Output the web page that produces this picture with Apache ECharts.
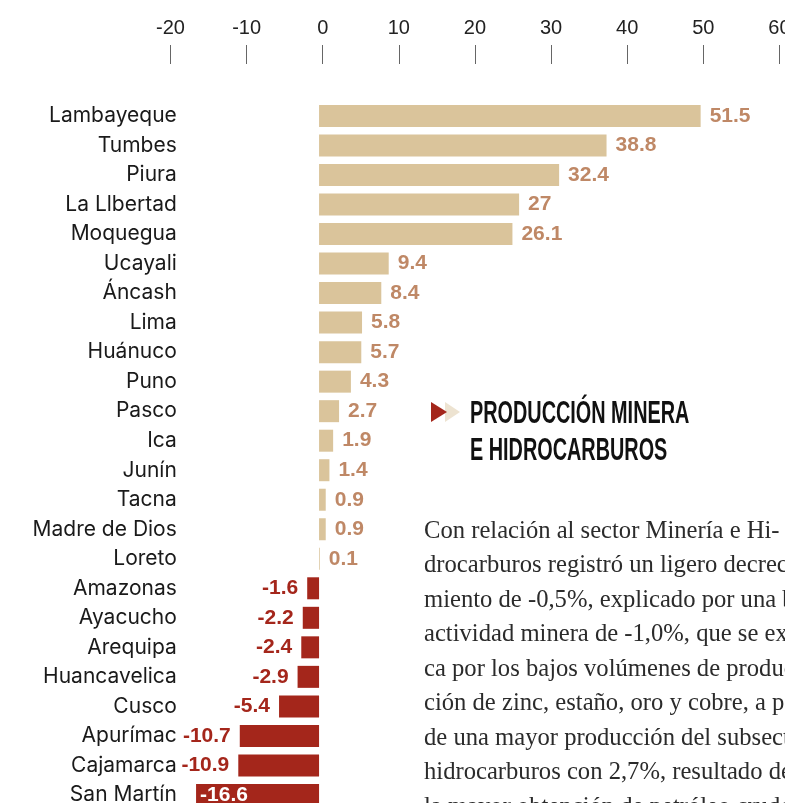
<!DOCTYPE html>
<html>
<head>
<meta charset="utf-8">
<script src="https://cdn.jsdelivr.net/npm/echarts@6/dist/echarts.min.js"></script>
<style>
  html, body { margin: 0; padding: 0; overflow: hidden; background: #fff; }
  #main { width: 785px; height: 830px; }
</style>
</head>
<body>
<div id="main"></div>
<script>
// datos por región (variación %)
var regiones = ['Lambayeque', 'Tumbes', 'Piura', 'La Llbertad', 'Moquegua', 'Ucayali', 'Áncash', 'Lima',
  'Huánuco', 'Puno', 'Pasco', 'Ica', 'Junín', 'Tacna', 'Madre de Dios', 'Loreto', 'Amazonas', 'Ayacucho',
  'Arequipa', 'Huancavelica', 'Cusco', 'Apurímac', 'Cajamarca', 'San Martín'];
var valores = [51.5, 38.8, 32.4, 27, 26.1, 9.4, 8.4, 5.8, 5.7, 4.3, 2.7, 1.9, 1.4, 0.9, 0.9, 0.1,
  -1.6, -2.2, -2.4, -2.9, -5.4, -10.7, -10.9, -16.6];
var ticksEje = [-20, -10, 0, 10, 20, 30, 40, 50, 60];

var titulo = ['PRODUCCIÓN MINERA', 'E HIDROCARBUROS'];
var parrafo = [
  'Con relación al sector Minería e Hi-',
  'drocarburos registró un ligero decreci-',
  'miento de -0,5%, explicado por una baja',
  'actividad minera de -1,0%, que se expli-',
  'ca por los bajos volúmenes de produc-',
  'ción de zinc, estaño, oro y cobre, a pesar',
  'de una mayor producción del subsector',
  'hidrocarburos con 2,7%, resultado de',
  'la mayor obtención de petróleo crudo'
];

var colorPos = '#dac49b';
var colorNeg = '#a4261b';
var colorEtqPos = '#bf8866';

var chart = echarts.init(document.getElementById('main'), null, { renderer: 'canvas' });

var datos = valores.map(function (v) {
  var item = { value: v, itemStyle: { color: v >= 0 ? colorPos : colorNeg } };
  if (v >= 0) {
    item.label = { position: 'right', color: colorEtqPos };
  } else if (v < -15) {
    // no hay espacio a la izquierda: va dentro de la barra
    item.label = { position: 'insideLeft', color: '#fff', distance: 4 };
  } else {
    item.label = { position: 'left', color: colorNeg };
  }
  return item;
});

var graficos = [
  { type: 'polygon', shape: { points: [[445, 402], [460, 412], [445, 422]] }, style: { fill: '#ede3d1' }, z: 1 },
  { type: 'polygon', shape: { points: [[431, 402], [447, 412], [431, 422]] }, style: { fill: '#a4261b' }, z: 2 }
];
titulo.forEach(function (t, i) {
  graficos.push({
    type: 'text', x: 470, y: 414 + i * 37, scaleX: 0.62,
    style: { text: t, font: 'bold 32px "Liberation Sans", Arial, sans-serif', fill: '#111', verticalAlign: 'middle' }
  });
});
parrafo.forEach(function (t, i) {
  graficos.push({
    type: 'text', x: 424, y: 531 + i * 34.5, scaleX: 0.985,
    style: { text: t, font: '25px "Liberation Serif", serif', fill: '#2b2b2b', verticalAlign: 'middle' }
  });
});

var option = {
  animation: false,
  grid: { left: 170.5, right: 5.6, top: 101.2, bottom: 20.3, containLabel: false, outerBoundsMode: 'none' },
  xAxis: [{
    type: 'value',
    position: 'top',
    offset: 37.2,
    min: ticksEje[0],
    max: ticksEje[ticksEje.length - 1],
    interval: 10,
    axisLine: { show: false },
    axisTick: { show: true, length: 19, lineStyle: { color: '#666', width: 1 } },
    axisLabel: { show: true, margin: 26, fontSize: 20, color: '#222', fontFamily: '"Liberation Sans", Arial, sans-serif', showMaxLabel: true, showMinLabel: true },
    splitLine: { show: false }
  }, {
    // eje oculto para las barras
    type: 'value',
    position: 'bottom',
    min: -20.05,
    max: 62.13,
    show: false,
    splitLine: { show: false }
  }],
  yAxis: {
    type: 'category',
    data: regiones,
    inverse: true,
    axisLine: { show: false, onZero: false },
    axisTick: { show: false },
    axisLabel: { margin: -6.3, fontSize: 21, color: '#1a1a1a', fontFamily: 'Inter, "Noto Sans", sans-serif' },
    splitLine: { show: false }
  },
  series: [{
    type: 'bar',
    xAxisIndex: 1,
    barWidth: 22,
    data: datos,
    label: {
      show: true,
      distance: 9,
      fontSize: 21,
      fontWeight: 'bold',
      fontFamily: '"Liberation Sans", Arial, sans-serif',
      formatter: function (p) { return String(p.value); }
    }
  }],
  graphic: graficos
};

chart.setOption(option);
</script>
</body>
</html>
